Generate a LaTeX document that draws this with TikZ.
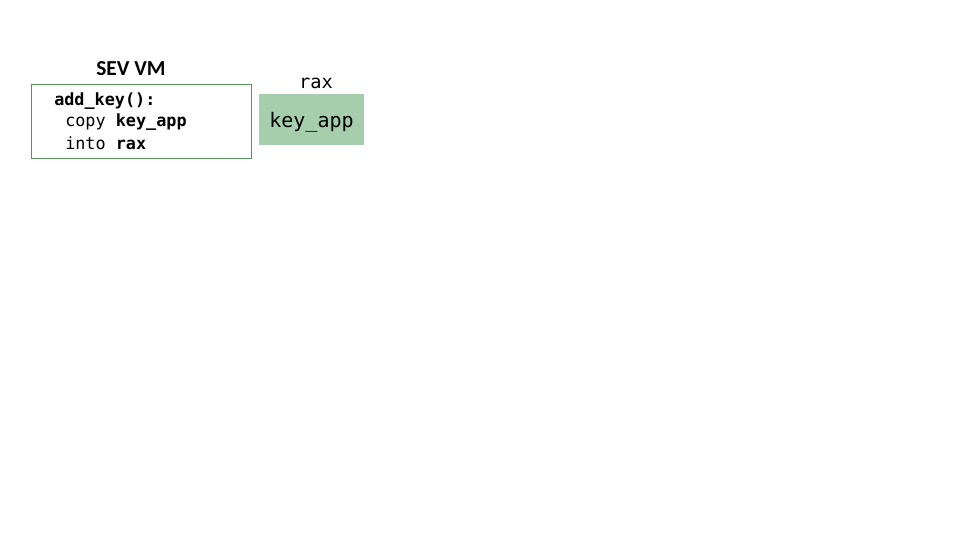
\documentclass[tikz,border=0pt]{standalone}
\usepackage{fontspec}
\setmonofont{DejaVu Sans Mono}
\newfontfamily\titlefont{Carlito}
\usetikzlibrary{positioning}
\definecolor{vmgreen}{RGB}{84,150,92}
\definecolor{regfill}{RGB}{166,206,172}
\begin{document}
\begin{tikzpicture}[x=0.75pt, y=-0.75pt,
  codebox/.style={draw=vmgreen, line width=0.6pt, minimum width=165pt, minimum height=55.5pt, inner sep=0pt},
  regbox/.style={fill=regfill, minimum width=78.75pt, minimum height=38.25pt, inner sep=0pt, text height=15.5pt, text depth=3.5pt, font=\fontsize{15}{18}\selectfont\ttfamily},
  codetext/.style={align=left, inner sep=0pt, font=\fontsize{12.6}{15.75}\selectfont\ttfamily}]
\useasboundingbox (0,0) rectangle (960,540);
\node[codebox] (vm) at (141,121) {};
\node[font=\fontsize{16}{19}\selectfont\titlefont\bfseries] (vmtitle) at (131,69) {SEV VM};
\node[codetext, anchor=west] (code1) at (54,101) {\textbf{add\_key():}};
\node[codetext, anchor=west] (code2) at (65,122) {copy \textbf{key\_app}};
\node[codetext, anchor=west] (code3) at (65,143) {into \textbf{rax}};
\node[regbox] (rax) at (311.5,119.5) {key\_app};
\node[font=\fontsize{14}{17}\selectfont\ttfamily] (raxlabel) at (316,83) {rax};
\end{tikzpicture}
\end{document}
